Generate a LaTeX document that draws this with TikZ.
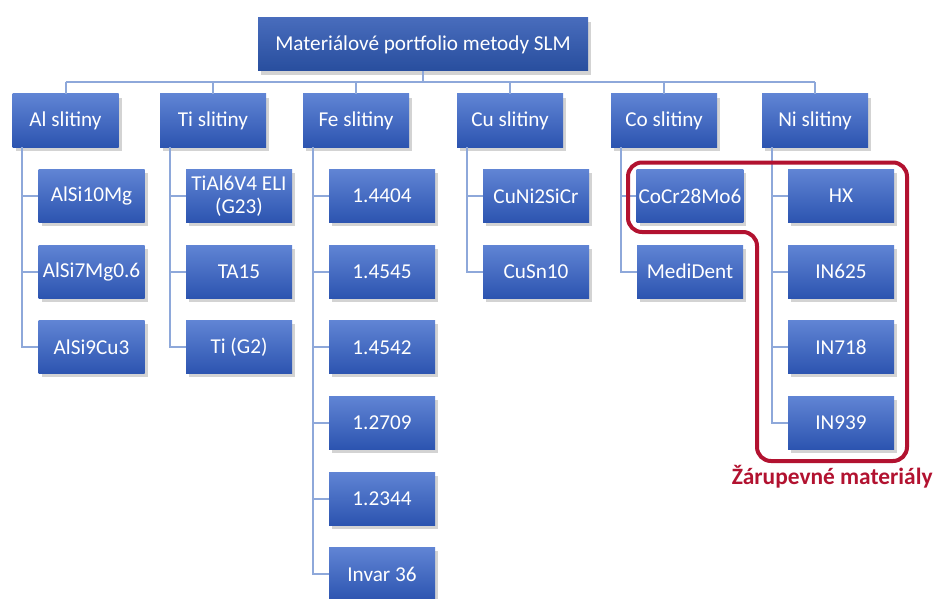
\documentclass[tikz,border=0pt]{standalone}
\usepackage{fontspec}
\setmainfont{Carlito}
\usetikzlibrary{positioning, shadows}
\definecolor{boxtop}{RGB}{96,132,212}
\definecolor{boxbot}{RGB}{44,84,176}
\definecolor{roottop}{RGB}{72,108,188}
\definecolor{rootbot}{RGB}{40,78,158}
\definecolor{linkblue}{RGB}{142,168,218}
\definecolor{heatred}{RGB}{178,18,48}

\begin{document}
\begin{tikzpicture}[x=0.5pt, y=-0.5pt,
  box/.style={top color=boxtop, bottom color=boxbot, text=white,
    minimum width=53pt, minimum height=26.5pt, inner sep=1pt, align=center,
    font=\fontsize{10.6}{11.8}\selectfont,
    drop shadow={shadow xshift=1.5pt, shadow yshift=-1.8pt, opacity=0.35}},
  link/.style={linkblue, line width=1pt}]
  \useasboundingbox (0,0) rectangle (936,599);
  \node[box, top color=roottop, bottom color=rootbot, minimum width=165pt] (root) at (423,44.5) {Materiálové portfolio metody SLM};
  % skupiny slitin
  \foreach \n/\x/\t in {al/65.5/Al, ti/213/Ti, fe/356/Fe, cu/510/Cu, co/664/Co, ni/815/Ni}
    \node[box] (\n) at (\x,120.5) {\t{} slitiny};
  \coordinate (bus) at (0,82);
  \draw[link] (root.south) -- (root.south |- bus);
  \draw[link] (al.north |- bus) -- (ni.north |- bus);
  \foreach \n in {al,ti,fe,cu,co,ni}
    \draw[link] (\n.north) -- (\n.north |- bus);
  % materialy
  \foreach \n/\list in {al/{AlSi10Mg,AlSi7Mg0.6,AlSi9Cu3},
      ti/{TiAl6V4 ELI\\(G23),TA15,Ti (G2)},
      fe/{1.4404,1.4545,1.4542,1.2709,1.2344,Invar 36},
      cu/{CuNi2SiCr,CuSn10}, co/{CoCr28Mo6,MediDent},
      ni/{HX,IN625,IN718,IN939}}
    \foreach \m [count=\i] in \list {
      \node[box] (\n\i) at ([shift={(26,75.6*\i)}]\n.center) {\m};
      \draw[link] ([xshift=5pt]\n.south west) |- (\n\i.west);
    }
  % zarupevne
  \draw[heatred, line width=2pt, rounded corners=7pt] (760,162.5) -- (907,162.5) -- (907,461)
    -- (757,461) -- (757,232) -- (628,232) -- (628,162.5) -- cycle;
  \node[font=\bfseries\fontsize{11.7}{13}\selectfont, text=heatred, anchor=east, inner sep=0pt] (heat) at (933,477) {Žárupevné materiály};
\end{tikzpicture}
\end{document}
